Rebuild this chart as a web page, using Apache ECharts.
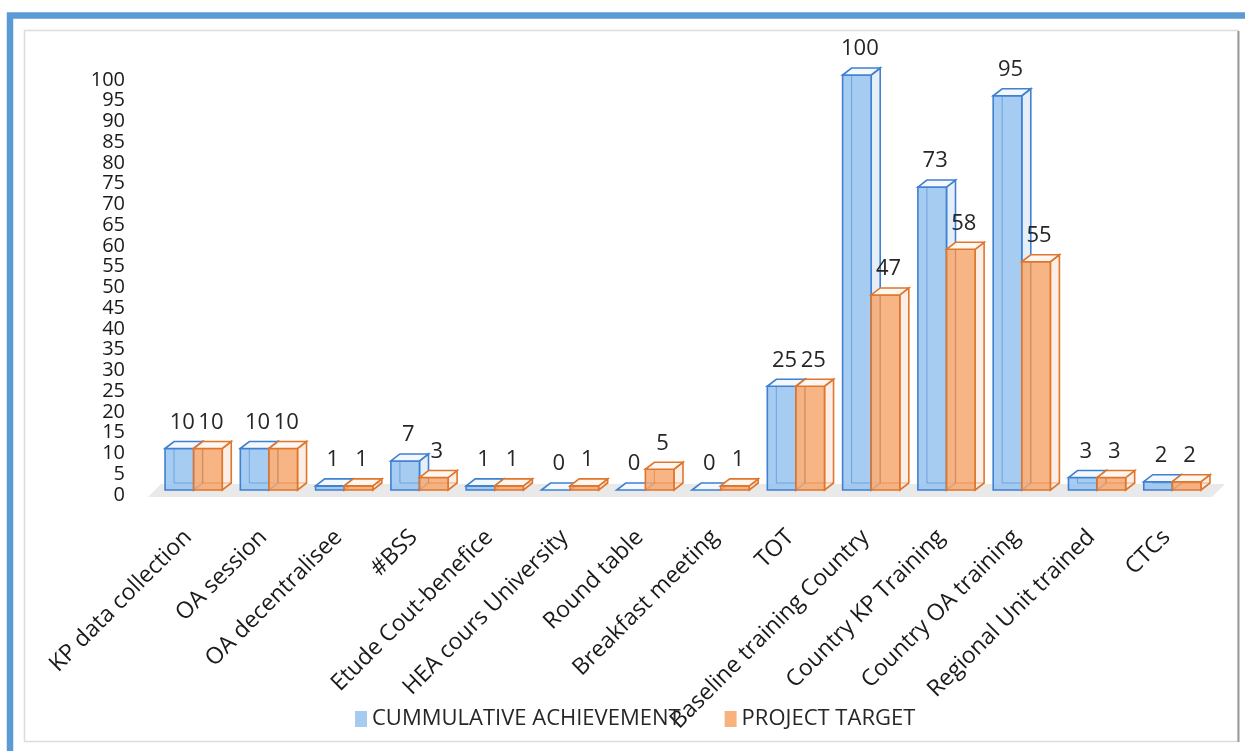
<!DOCTYPE html>
<html>
<head>
<meta charset="utf-8">
<script src="https://cdn.jsdelivr.net/npm/echarts@6/dist/echarts.min.js"></script>
<style>
html,body{margin:0;padding:0;background:#fff;}
#c{width:1245px;height:751px;}
</style>
</head>
<body>
<div id="c"></div>
<script>
const categories = ['KP data collection','OA session','OA decentralisee','#BSS','Etude Cout-benefice','HEA cours University','Round table','Breakfast meeting','TOT','Baseline training Country','Country KP Training','Country OA training','Regional Unit trained','CTCs'];
const achievement = [10,10,1,7,1,0,0,0,25,100,73,95,3,2];
const target = [10,10,1,3,1,1,5,1,25,47,58,55,3,2];
const yTicks = {min:0, max:100, interval:5};

const FONT = '"Open Sans", "Noto Sans", sans-serif';
const DX = 9, DY = -7, SHIFT = 5;
const styles = [
  {front:'rgba(150,195,240,0.85)', side:'#e6eef7', top:'#f4f8fc', stroke:'#3f80d2', inner:'rgba(63,128,210,0.55)'},
  {front:'rgba(246,168,112,0.85)', side:'#fbeee6', top:'#fdf6f1', stroke:'#e0762c', inner:'rgba(224,118,44,0.55)'}
];

function makeRender(si){
  return function(params, api){
    const ci = api.value(0), v = api.value(1);
    const base = api.coord([ci, 0]);
    const top = api.coord([ci, v]);
    const band = api.size([1, 0])[0];
    const w = band * 0.38;
    const x0 = si === 0 ? base[0] - w : base[0];
    const x1 = x0 + w;
    const yb = base[1] - SHIFT, yt = top[1] - SHIFT;
    const s = styles[si];
    const lw = 1.6;
    const children = [];
    children.push({type:'polygon', shape:{points:[[x1,yb],[x1+DX,yb+DY],[x1+DX,yt+DY],[x1,yt]]},
      style:{fill:s.side, stroke:s.stroke, lineWidth:lw}});
    if (yb - yt > 0.5) {
      children.push({type:'rect', shape:{x:x0, y:yt, width:w, height:yb-yt},
        style:{fill:s.front, stroke:s.stroke, lineWidth:lw}});
      children.push({type:'polyline', shape:{points:[[x0+DX,yt+DY],[x0+DX,yb+DY],[x1+DX,yb+DY]]},
        style:{fill:null, stroke:s.inner, lineWidth:1}});
    }
    children.push({type:'polygon', shape:{points:[[x0,yt],[x0+DX,yt+DY],[x1+DX,yt+DY],[x1,yt]]},
      style:{fill:s.top, stroke:s.stroke, lineWidth:lw}});
    children.push({type:'text', style:{text:String(v), x:(x0+x1)/2+3, y:yt-26, align:'center', verticalAlign:'middle',
      fontSize:22, fontFamily:FONT, fill:'#262626'}});
    return {type:'group', children:children};
  };
}

function floorRender(params, api){
  const first = api.coord([0, 0]);
  const last = api.coord([categories.length - 1, 0]);
  const band = api.size([1, 0])[0];
  const L = first[0] - band/2, R = last[0] + band/2;
  const y = first[1];
  return {type:'polygon', shape:{points:[[L-8,y+2],[R+2,y+2],[R+15,y-11],[L+5,y-11]]},
    style:{fill:'#e9e9e9', stroke:null}};
}

const chart = echarts.init(document.getElementById('c'), null, {renderer:'canvas'});
chart.setOption({
  animation:false,
  backgroundColor:'#fff',
  graphic:[
    {type:'rect', z:-10, shape:{x:10, y:15.5, width:1300, height:800}, style:{fill:'#fff', stroke:'#5b9bd5', lineWidth:6.5}},
    {type:'rect', z:-9, shape:{x:24.5, y:30.5, width:1213.5, height:711}, style:{fill:'#fff', stroke:'#dcdcdc', lineWidth:1.5}},
    {type:'line', z:-8, shape:{x1:1238.5, y1:31, x2:1238.5, y2:742}, style:{stroke:'#9a9a9a', lineWidth:2}}
  ],
  grid:{left:156, right:35, top:80, bottom:256, containLabel:false},
  legend:{
    left:350, top:703, itemWidth:12, itemHeight:16, itemGap:44, itemTextGap:6, icon:'rect',
    textStyle:{fontSize:22, fontFamily:FONT, color:'#262626'},
    data:[{name:'CUMMULATIVE ACHIEVEMENT'},{name:'PROJECT TARGET'}]
  },
  xAxis:{
    type:'category', data:categories,
    axisLine:{show:false}, axisTick:{show:false}, splitLine:{show:false},
    axisLabel:{interval:0, rotate:45, margin:33, fontSize:23, fontFamily:FONT, color:'#1a1a1a', padding:[0,8,0,0]}
  },
  yAxis:{
    type:'value', min:yTicks.min, max:yTicks.max, interval:yTicks.interval,
    axisLine:{show:false}, axisTick:{show:false}, splitLine:{show:false},
    axisLabel:{margin:31, fontSize:20, fontFamily:FONT, color:'#1a1a1a'}
  },
  series:[
    {type:'custom', name:'floor', renderItem:floorRender, data:[[0,0]], z:1, silent:true},
    {type:'custom', name:'CUMMULATIVE ACHIEVEMENT', itemStyle:{color:'#a6cbf1'}, renderItem:makeRender(0),
      data:achievement.map((v,i)=>[i,v]), encode:{x:0,y:1}, z:2},
    {type:'custom', name:'PROJECT TARGET', itemStyle:{color:'#f7b27f'}, renderItem:makeRender(1),
      data:target.map((v,i)=>[i,v]), encode:{x:0,y:1}, z:3}
  ]
});
</script>
</body>
</html>
